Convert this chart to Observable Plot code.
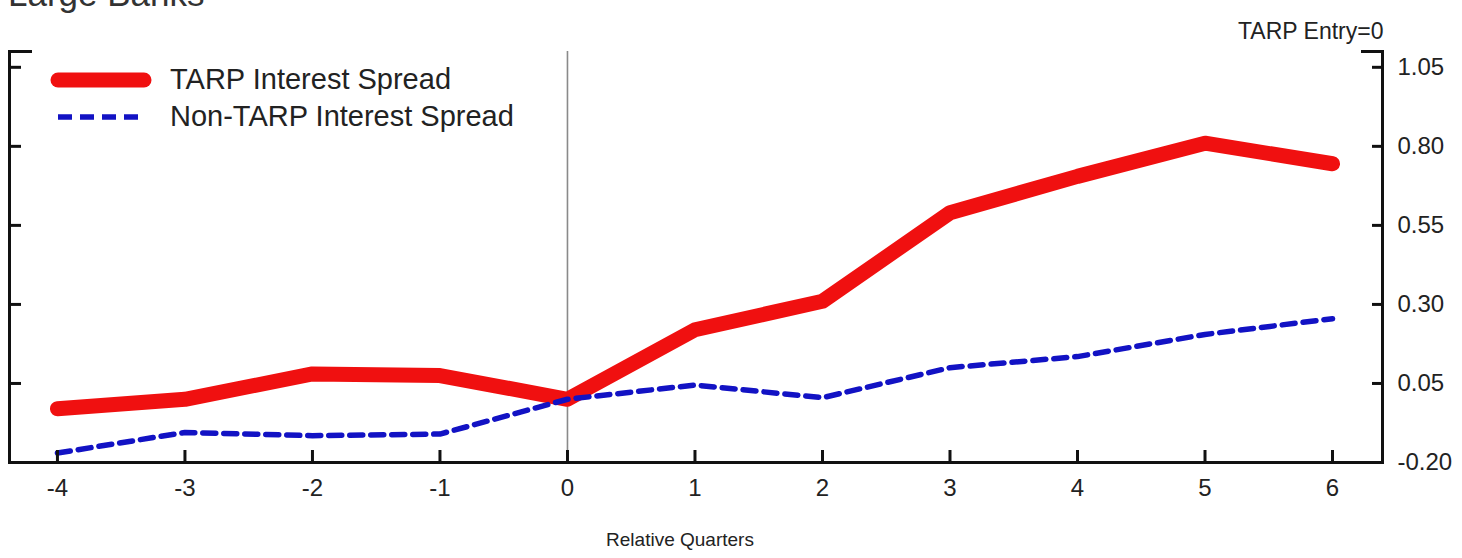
<!DOCTYPE html>
<html>
<head>
<meta charset="utf-8">
<script src="https://cdn.jsdelivr.net/npm/d3@7"></script>
<script src="https://cdn.jsdelivr.net/npm/@observablehq/plot@0.6"></script>
<style>
  html, body { margin: 0; padding: 0; background: #fff; overflow: hidden; }
  #wrap { position: relative; width: 1462px; height: 558px; font-family: "Liberation Sans", Arial, sans-serif; }
  #title { position: absolute; left: 8px; top: -24px; font-size: 35px; line-height: 35px; color: #333; white-space: nowrap; }
  #legend { position: absolute; left: 50px; top: 61px; font-size: 29px; color: #222; }
  #legend .row { display: flex; align-items: center; height: 37px; }
  #legend svg { margin-right: 18px; }
</style>
</head>
<body>
<div id="wrap">
  <div id="chart"></div>
  <div id="title">Large Banks</div>
  <div id="legend"></div>
</div>
<script>
const quarters = [-4, -3, -2, -1, 0, 1, 2, 3, 4, 5, 6];
const tarpSpread = [-0.03, 0.00, 0.08, 0.075, 0.00, 0.22, 0.31, 0.59, 0.705, 0.81, 0.745];
const nonTarpSpread = [-0.17, -0.105, -0.115, -0.11, 0.00, 0.045, 0.005, 0.10, 0.135, 0.205, 0.255];
const yTicks = [-0.20, 0.05, 0.30, 0.55, 0.80, 1.05];
const xTicks = quarters;
const seriesNames = ["TARP Interest Spread", "Non-TARP Interest Spread"];
const seriesColors = ["#f01010", "#1212c4"];

const tarpData = quarters.map((q, i) => ({q, v: tarpSpread[i]}));
const nonTarpData = quarters.map((q, i) => ({q, v: nonTarpSpread[i]}));

const yMin = -0.20, yMax = 1.10;
const hyphenFmt = (d, digits) => (d < 0 ? "-" : "") + Math.abs(d).toFixed(digits);

const chart = Plot.plot({
  width: 1462,
  height: 558,
  marginLeft: 9,
  marginRight: 80,
  marginTop: 51,
  marginBottom: 96,
  style: {fontFamily: "'Liberation Sans', Arial, sans-serif", color: "#222", background: "#fff"},
  x: {domain: [-4.376, 6.392]},
  y: {domain: [yMin, yMax]},
  marks: [
    Plot.ruleX([0], {stroke: "#8a8a8a", strokeWidth: 1.6}),
    Plot.line(tarpData, {x: "q", y: "v", stroke: seriesColors[0], strokeWidth: 15, strokeLinecap: "round", strokeLinejoin: "round"}),
    Plot.line(nonTarpData, {x: "q", y: "v", stroke: seriesColors[1], strokeWidth: 5.5, strokeDasharray: "13,8", strokeLinejoin: "round"}),
    Plot.frame({anchor: "left", strokeWidth: 3, stroke: "#111"}),
    Plot.frame({anchor: "right", strokeWidth: 3, stroke: "#111"}),
    Plot.frame({anchor: "bottom", strokeWidth: 3, stroke: "#111"}),
    Plot.axisY(yTicks, {anchor: "left", tickSize: -12, strokeWidth: 3, stroke: "#111", tickFormat: () => "", label: null}),
    Plot.axisY(yTicks, {anchor: "right", tickSize: -11, strokeWidth: 3, stroke: "#111", tickFormat: () => "", label: null}),
    Plot.axisY([yMax], {anchor: "left", tickSize: -23, strokeWidth: 3, stroke: "#111", tickFormat: () => "", label: null}),
    Plot.axisY([yMax], {anchor: "right", tickSize: -22, strokeWidth: 3, stroke: "#111", tickFormat: () => "", label: null}),
    Plot.axisY(yTicks, {anchor: "right", tickSize: 0, tickPadding: 15, fontSize: 24, tickFormat: d => hyphenFmt(d, 2), label: null}),
    Plot.axisX(xTicks, {anchor: "bottom", tickSize: -12, strokeWidth: 3, stroke: "#111", tickFormat: () => "", label: null}),
    Plot.axisX(xTicks, {anchor: "bottom", tickSize: 0, tickPadding: 16, fontSize: 24, tickFormat: d => hyphenFmt(d, 0), label: null}),
    Plot.text(["Relative Quarters"], {frameAnchor: "bottom", dy: 83, dx: -16, fontSize: 19, fill: "#222"}),
    Plot.text(["TARP Entry=0"], {frameAnchor: "top-right", dy: -29, dx: 1, textAnchor: "end", fontSize: 23, fill: "#222"})
  ]
});
document.getElementById("chart").appendChild(chart);

const legend = document.getElementById("legend");
seriesNames.forEach((name, i) => {
  const row = document.createElement("div");
  row.className = "row";
  const ns = "http://www.w3.org/2000/svg";
  const svg = document.createElementNS(ns, "svg");
  svg.setAttribute("width", 102);
  svg.setAttribute("height", 20);
  const ln = document.createElementNS(ns, "line");
  ln.setAttribute("x1", 8); ln.setAttribute("x2", 94);
  ln.setAttribute("y1", 10); ln.setAttribute("y2", 10);
  ln.setAttribute("stroke", seriesColors[i]);
  if (i === 0) {
    ln.setAttribute("stroke-width", 15);
    ln.setAttribute("stroke-linecap", "round");
  } else {
    ln.setAttribute("stroke-width", 5.5);
    ln.setAttribute("stroke-dasharray", "14,8");
  }
  svg.appendChild(ln);
  row.appendChild(svg);
  const span = document.createElement("span");
  span.textContent = name;
  row.appendChild(span);
  legend.appendChild(row);
});
</script>
</body>
</html>
